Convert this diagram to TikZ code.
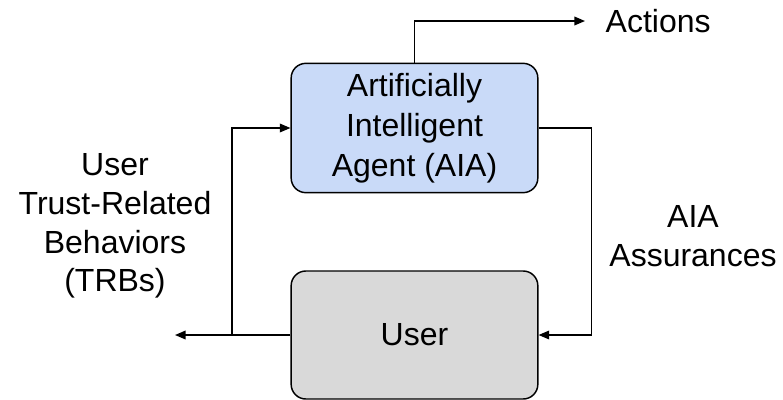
\documentclass[tikz,border=0pt]{standalone}
\usepackage{fontspec}
\setmainfont{Liberation Sans}
\usepackage[dvipsnames]{xcolor}
\usetikzlibrary{arrows.meta}
\definecolor{aiablue}{HTML}{C9DAF8}
\definecolor{usergray}{HTML}{D9D9D9}

\begin{document}
\begin{tikzpicture}[->,>={Triangle[length=8pt,width=6.5pt]},x=0.75pt,y=-0.75pt,line width=1.1pt,
    box node/.style={draw,rounded corners=11pt,minimum width=185pt,minimum height=97pt,align=center,font=\fontsize{24}{30}\selectfont},
    label node/.style={inner sep=0pt,align=center,font=\fontsize{24}{29}\selectfont}]
            \useasboundingbox (0,0) rectangle (783,400);

            \node[box node,fill=aiablue] (aia) at (414.5,128) {Artificially\\Intelligent\\Agent (AIA)};
            \node[box node,fill=usergray,minimum height=96pt] (user) at (414.5,335) {User};

            \node[label node,anchor=west] (acts) at (605,21) {Actions};
            \node[label node] (trb) at (115,226) {User\\Trust-Related\\Behaviors\\(TRBs)};
            \node[label node] (asr) at (693,236) {AIA\\Assurances};

            \coordinate (actend) at (585,21);
            \coordinate (out) at (175,335);
            \coordinate (split) at (232,335);

            \draw (aia.north) |- (actend);
            \draw (aia.east) -- ++(53,0) |- (user.east);
            \draw (user.west) -- (out);
            \draw (split) |- (aia.west);
\end{tikzpicture}
\end{document}
